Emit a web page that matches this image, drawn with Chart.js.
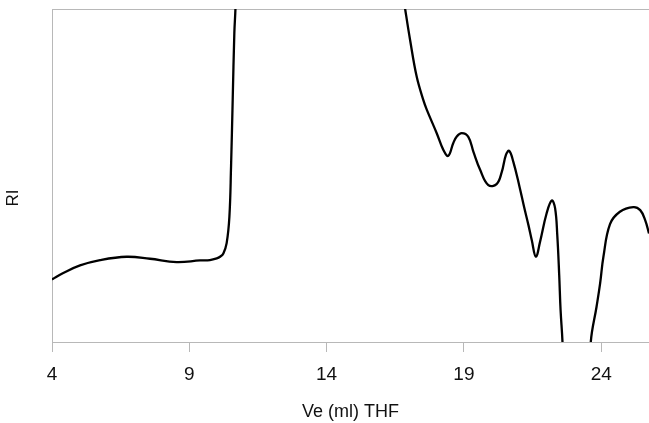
<!DOCTYPE html>
<html>
<head>
<meta charset="utf-8">
<script src="https://cdn.jsdelivr.net/npm/chart.js@4/dist/chart.umd.min.js"></script>
<style>
  html, body { margin: 0; padding: 0; background: #ffffff; }
  #wrap { width: 649px; height: 423px; position: relative; }
</style>
</head>
<body>
<div id="wrap"><canvas id="c" width="649" height="423"></canvas></div>
<script>
// Elution volume (ml) and RI detector response (arbitrary units, 0-100 visible window)
const veValues = [
  4.00, 4.41, 5.02, 5.75, 6.72, 7.57, 8.54, 9.39, 9.75, 10.00, 10.12, 10.24, 10.36, 10.46, 10.52, 10.58, 10.64, 10.68, 10.72,
  11.0, 12.0, 13.3, 14.5, 15.5, 16.3,
  16.86, 17.04, 17.28, 17.52, 17.65, 18.01, 18.25, 18.43, 18.61, 18.74, 18.92, 19.16, 19.35, 19.59, 19.89,
  20.19, 20.38, 20.53, 20.65, 20.80, 21.02, 21.19, 21.35, 21.47, 21.62, 21.77, 22.01, 22.20, 22.32, 22.40, 22.47, 22.52, 22.59,
  22.80, 23.10, 23.40, 23.62, 23.83, 23.96, 24.08, 24.32, 24.68, 25.17, 25.42, 25.60, 25.74
];
const riValues = [
  18.8, 20.7, 23.0, 24.6, 25.6, 25.0, 24.0, 24.5, 24.6, 25.1, 25.6, 26.6, 29.7, 37.6, 52.6, 72.7, 92.8, 100, 112,
  160, 300, 400, 330, 220, 130,
  100, 90.7, 79.7, 72.7, 69.7, 62.7, 57.7, 55.9, 59.7, 61.7, 62.7, 61.6, 57.0, 51.7, 47.1,
  47.4, 51.1, 56.2, 57.4, 54.1, 46.8, 40.6, 35.1, 30.6, 25.6, 30.0, 38.6, 42.5, 40.2, 32.1, 20.1, 9.6, 0,
  -45, -70, -35, 0, 10.6, 17.6, 25.6, 35.4, 39.1, 40.5, 39.6, 36.6, 32.6
];
const xTickValues = [4, 9, 14, 19, 24];
const xMin = 4, xMax = 25.74;
const yMin = 0, yMax = 100;
const xTitle = 'Ve (ml) THF';
const yTitle = 'RI';

const points = veValues.map((v, i) => ({ x: v, y: riValues[i] }));

const axisGray = '#b8b8b8';
const textColor = '#111111';
const fontFamily = '"Liberation Sans", Arial, sans-serif';

const yTitlePlugin = {
  id: 'yTitlePlugin',
  afterDraw(chart) {
    const ctx = chart.ctx;
    ctx.save();
    ctx.translate(18, 198);
    ctx.rotate(-Math.PI / 2);
    ctx.font = '17px ' + fontFamily;
    ctx.fillStyle = textColor;
    ctx.textAlign = 'center';
    ctx.textBaseline = 'alphabetic';
    ctx.fillText(yTitle, 0, 0);
    ctx.restore();
  }
};

new Chart(document.getElementById('c'), {
  type: 'line',
  data: {
    datasets: [{
      data: points,
      borderColor: '#000000',
      borderWidth: 2.3,
      pointRadius: 0,
      fill: false,
      tension: 0.4
    }]
  },
  options: {
    responsive: false,
    animation: false,
    events: [],
    elements: { line: { capBezierPoints: false } },
    layout: { padding: { top: 9, left: 0, right: 0, bottom: 0 } },
    plugins: { legend: { display: false }, tooltip: { enabled: false } },
    scales: {
      x: {
        type: 'linear',
        min: xMin,
        max: xMax,
        afterBuildTicks: (scale) => { scale.ticks = xTickValues.map(v => ({ value: v })); },
        afterFit: (scale) => { scale.height = 81; },
        grid: { drawOnChartArea: false, drawTicks: true, tickLength: 10, color: axisGray, lineWidth: 1 },
        border: { display: true, color: axisGray, width: 1 },
        ticks: { padding: 11, color: textColor, font: { family: fontFamily, size: 19 }, maxRotation: 0 },
        title: { display: true, text: xTitle, color: textColor, font: { family: fontFamily, size: 18 }, padding: { top: 0, bottom: 0 } }
      },
      y: {
        type: 'linear',
        min: yMin,
        max: yMax,
        afterBuildTicks: (scale) => { scale.ticks = [{ value: yMin }, { value: yMax }]; },
        afterFit: (scale) => { scale.width = 52; },
        grid: { drawOnChartArea: true, drawTicks: false, color: axisGray, lineWidth: 1 },
        border: { display: true, color: axisGray, width: 1 },
        ticks: { display: false }
      }
    }
  },
  plugins: [yTitlePlugin]
});
</script>
</body>
</html>
